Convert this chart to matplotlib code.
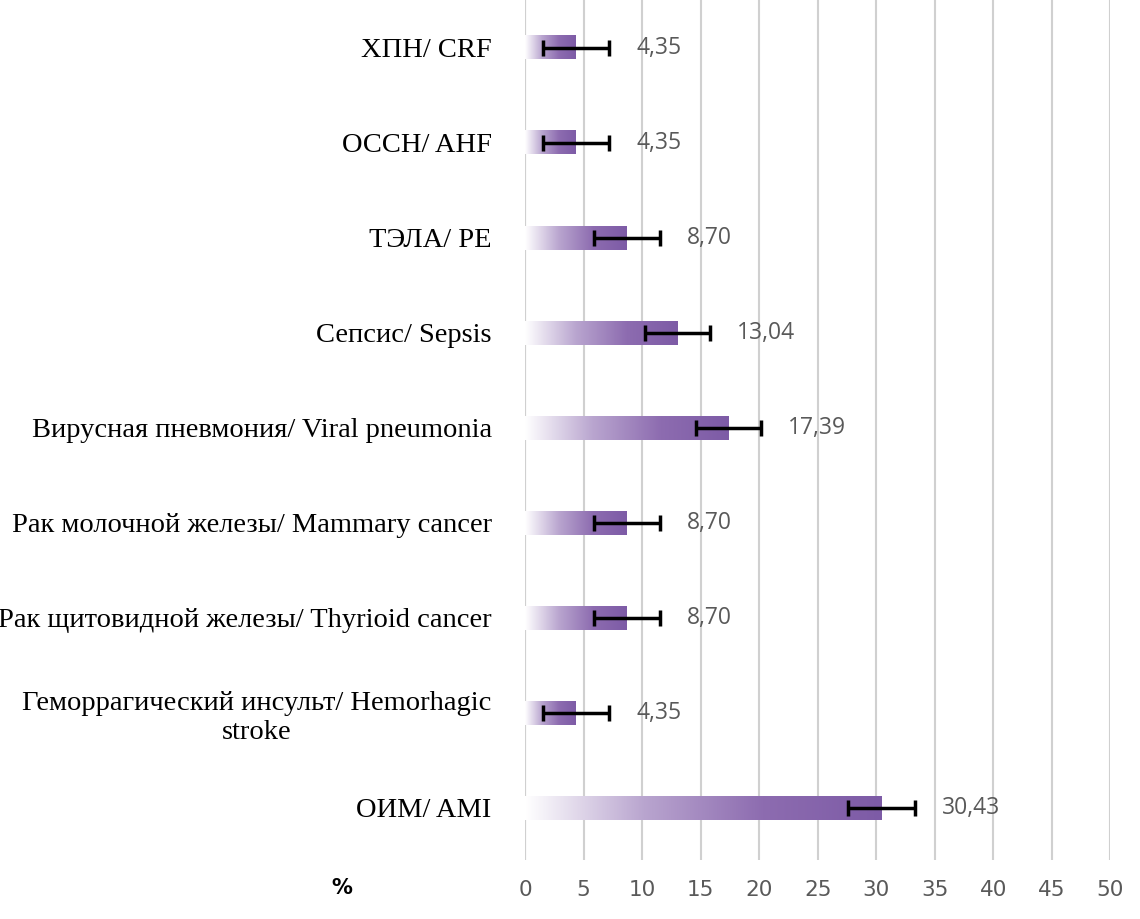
import matplotlib.pyplot as plt
import numpy as np
from matplotlib.colors import LinearSegmentedColormap

categories = ['ХПН/ CRF', 'ОССН/ AHF', 'ТЭЛА/ PE', 'Сепсис/ Sepsis',
              'Вирусная пневмония/ Viral pneumonia',
              'Рак молочной железы/ Mammary cancer',
              'Рак щитовидной железы/ Thyrioid cancer',
              'Геморрагический инсульт/ Hemorhagic\nstroke',
              'ОИМ/ AMI']
values = [4.35, 4.35, 8.70, 13.04, 17.39, 8.70, 8.70, 4.35, 30.43]
errors = [2.85, 2.85, 2.8, 2.8, 2.8, 2.8, 2.8, 2.85, 2.85]
labels = ['4,35', '4,35', '8,70', '13,04', '17,39', '8,70', '8,70', '4,35', '30,43']

fig = plt.figure(figsize=(11.4, 9.19), dpi=100)
ax = fig.add_axes([0.4605, 0.064, 0.5135, 0.936])
n = len(categories)
ys = np.arange(n)[::-1]
cmap = LinearSegmentedColormap.from_list('g', ['#ffffff', '#b9a5cf', '#8d6cb0', '#7d5ba6'])
grad = np.linspace(0, 1, 256).reshape(1, -1)
h = 0.125
for y, v, e, lab in zip(ys, values, errors, labels):
    ax.imshow(grad, cmap=cmap, aspect='auto', extent=[0, v, y - h, y + h], zorder=2)
    ax.errorbar(v, y, xerr=e, color='black', capsize=6, elinewidth=2.5, capthick=2.5, zorder=3)
    ax.text(v + e + 2.3, y, lab, va='center', ha='left', fontsize=16.5, color='#595959', family='Open Sans')

ax.set_xlim(0, 50)
ax.set_ylim(-0.55, n - 0.5)
ax.set_xticks(range(0, 51, 5))
ax.set_yticks(ys)
ax.set_yticklabels(categories, family='Liberation Serif', fontsize=20.5)
ax.tick_params(axis='y', length=0, pad=24)
for lbl in ax.get_yticklabels():
    lbl.set_multialignment('center')
ax.tick_params(axis='x', length=0, labelsize=15.5, labelcolor='#595959', pad=14)
ax.grid(axis='x', color='#d0d0d0', linewidth=1.5, zorder=0)
ax.set_axisbelow(True)
for s in ax.spines.values():
    s.set_visible(False)
ax.axvline(0, color='#d0d0d0', linewidth=1.5, zorder=1)
fig.text(0.30, 0.027, '%', fontsize=15, fontweight='bold', ha='center')
fig.savefig('out.png')
